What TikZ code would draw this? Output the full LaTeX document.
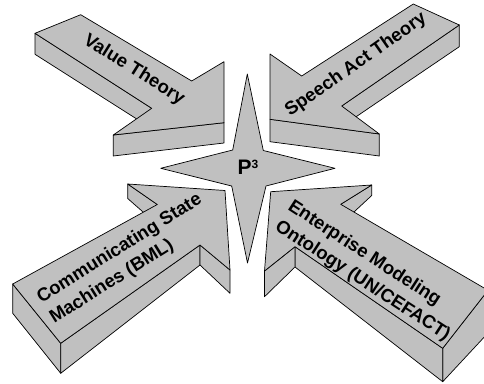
\documentclass[tikz,border=0pt]{standalone}
\usepackage{fontspec}
\setmainfont{Liberation Sans}
\definecolor{facegray}{RGB}{192,192,192}
\begin{document}
\begin{tikzpicture}[x=1pt,y=-1pt,
  face/.style={fill=facegray,draw=black,line width=0.7pt,line join=round},
  lbl/.style={font=\fontsize{18.5}{24}\selectfont\bfseries,align=left,inner sep=0pt}]
\useasboundingbox (0,0) rectangle (484,383);
\clip (0,0) rectangle (484,383);

% ---- Value Theory (upper left, pointing down-right) ----
\draw[face] (35,33.3) -- (151.7,108.3) -- (151.7,128.5) -- (35,54.3) -- cycle;
\draw[face] (224,122.7) -- (113.3,135) -- (113.3,156) -- (224,143) -- cycle;
\draw[face] (35,33.3) -- (80.7,14.7) -- (191.7,81) -- (224,61.7) -- (224,122.7)
  -- (113.3,135) -- (151.7,108.3) -- cycle;

% ---- Speech Act Theory (upper right, pointing down-left) ----
\draw[face] (459.3,25) -- (341.7,106) -- (341.7,126.5) -- (459.3,46.7) -- cycle;
\draw[face] (270,119.3) -- (379.3,134) -- (379.3,156) -- (270,141.7) -- cycle;
\draw[face] (413.3,4) -- (459.3,25) -- (341.7,106) -- (379.3,134) -- (270,119.3)
  -- (270,54) -- (301.7,76) -- cycle;

% ---- Communicating State Machines (lower left, pointing up-right) ----
\draw[face] (12.7,284) -- (60.7,343.3) -- (60.7,373.3) -- (12.7,313.3) -- cycle;
\draw[face] (60.7,343.3) -- (200,245) -- (200,265) -- (60.7,373.3) -- cycle;
\draw[face] (200,245) -- (230,270) -- (230,293.3) -- (200,265) -- cycle;
\draw[face] (127.7,184) -- (157.3,204.5) -- (157.3,224.5) -- (127.7,198.5) -- cycle;
\draw[face] (12.7,284) -- (60.7,343.3) -- (200,245) -- (230,270) -- (225,190.5)
  -- (127.7,184) -- (157.3,204.5) -- cycle;

% ---- Enterprise Modeling Ontology (lower right, pointing up-left) ----
\draw[face] (371.7,185) -- (340.7,204.3) -- (340.7,224.3) -- (371.7,195.5) -- cycle;
\draw[face] (488,290.3) -- (442.7,348.3) -- (442.7,381.7) -- (488,333) -- cycle;
\draw[face] (442.7,348.3) -- (295,246.7) -- (295,267) -- (442.7,381.7) -- cycle;
\draw[face] (295,246.7) -- (264.5,271) -- (264.5,296.7) -- (295,267) -- cycle;
\draw[face] (270.7,191.7) -- (371.7,185) -- (340.7,204.3) -- (488,290.3)
  -- (442.7,348.3) -- (295,246.7) -- (264.5,271) -- cycle;

% ---- four-pointed star in the middle ----
\draw[face] (247.3,74) -- (263.3,150.5) -- (335,168.3) -- (266,186) -- (247.5,263)
  -- (231.7,186) -- (160.7,168.3) -- (232.7,150) -- cycle;

% ---- labels ----
\node[lbl,rotate=-32] (value) at (134,70) {Value Theory};
\node[lbl,rotate=35] (speech) at (356,65) {Speech Act Theory};
\node[lbl,rotate=32] (csm) at (126,259) {Communicating State\\Machines (BML)};
\node[lbl,rotate=-33] (emo) at (369,271) {Enterprise Modeling\\Ontology (UN/CEFACT)};
\node[inner sep=0pt] (p3) at (248,167.5)
  {\fontsize{21}{21}\selectfont\bfseries P\raisebox{6pt}{\fontsize{12}{12}\selectfont 3}};
\end{tikzpicture}
\end{document}
